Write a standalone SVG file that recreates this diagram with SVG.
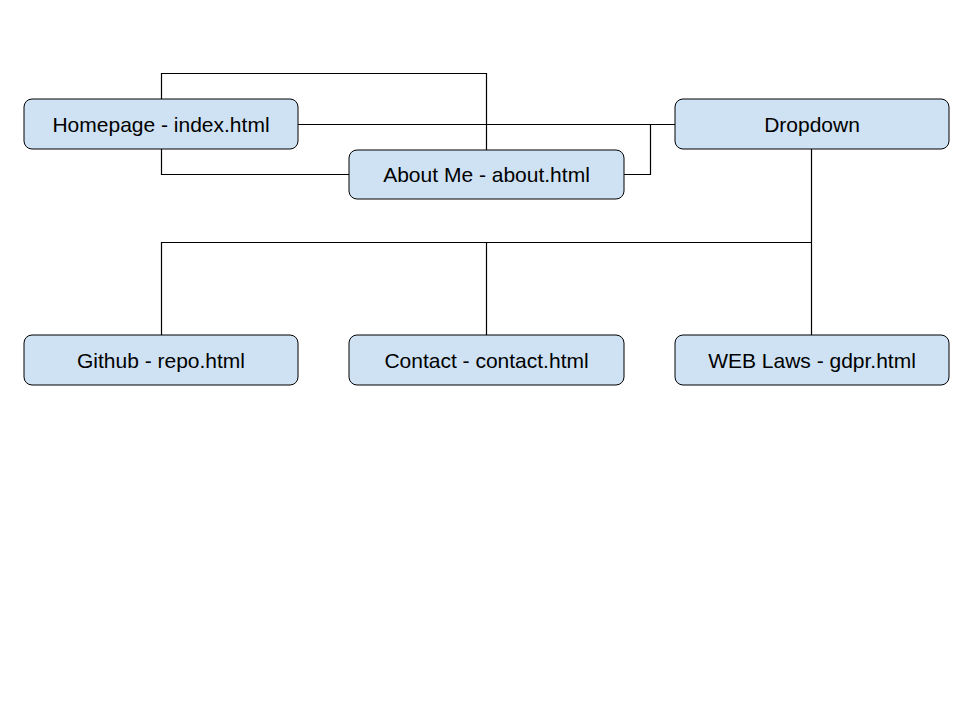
<svg xmlns="http://www.w3.org/2000/svg" width="960" height="720" viewBox="0 0 960 720">
<style>
.node rect{fill:#cfe2f3;stroke:#000;stroke-width:1}
.node text{font-family:"Liberation Sans",Arial,sans-serif;font-size:21px;fill:#000;text-anchor:middle;dominant-baseline:central}
.conn path{fill:none;stroke:#000;stroke-width:1.2}
</style>
<rect width="960" height="720" fill="#fff"/>
<g class="conn">
<path d="M161.5 99 V73.5 H486.5 V150"/>
<path d="M161.5 149 V174.5 H349"/>
<path d="M298 124.5 H675"/>
<path d="M624 174.5 H650.5 V124.5"/>
<path d="M811.5 149 V335"/>
<path d="M811.5 242.5 H161.5 V335"/>
<path d="M486.5 242.5 V335"/>
</g>
<g id="homepage" class="node"><rect x="24" y="99" width="274" height="50" rx="8"/><text x="161" y="124">Homepage - index.html</text></g>
<g id="about" class="node"><rect x="349" y="150" width="275" height="49" rx="8"/><text x="486.5" y="174.5">About Me - about.html</text></g>
<g id="dropdown" class="node"><rect x="675" y="99" width="274" height="50" rx="8"/><text x="812" y="124">Dropdown</text></g>
<g id="github" class="node"><rect x="24" y="335" width="274" height="50" rx="8"/><text x="161" y="360">Github - repo.html</text></g>
<g id="contact" class="node"><rect x="349" y="335" width="275" height="50" rx="8"/><text x="486.5" y="360">Contact - contact.html</text></g>
<g id="weblaws" class="node"><rect x="675" y="335" width="274" height="50" rx="8"/><text x="812" y="360">WEB Laws - gdpr.html</text></g>
</svg>
